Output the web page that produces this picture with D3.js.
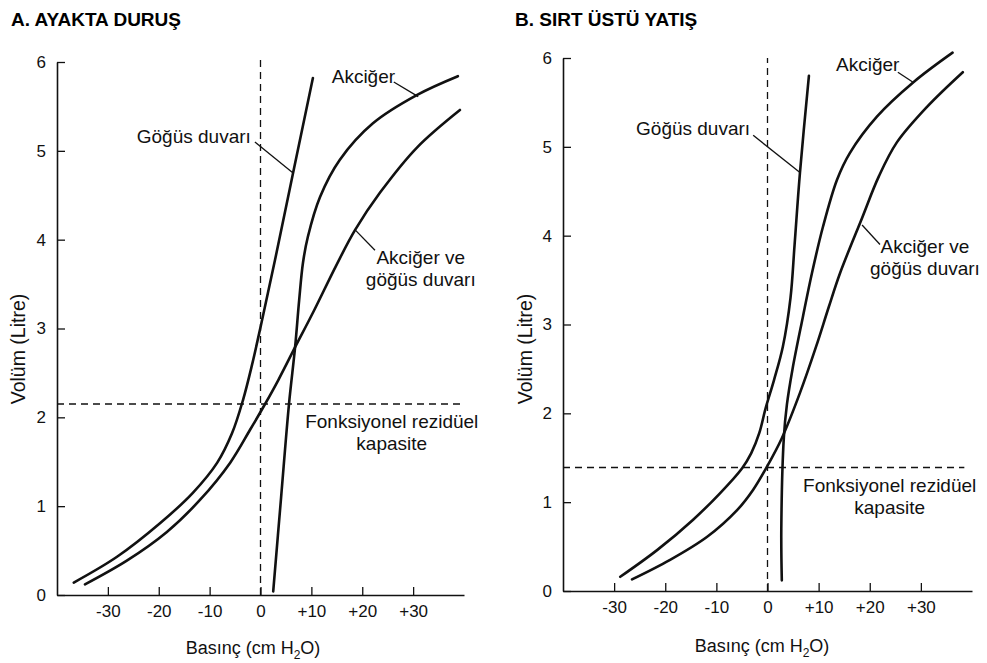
<!DOCTYPE html>
<html>
<head>
<meta charset="utf-8">
<script src="https://cdn.jsdelivr.net/npm/d3@7"></script>
<style>
  body { margin: 0; background: #fff; }
  svg { font-family: "Liberation Sans", Arial, Helvetica, sans-serif; }
</style>
</head>
<body>
<div id="chart"></div>
<script>
// Tick values and labels (shared by both panels)
const pressureTicks = [-30, -20, -10, 0, 10, 20, 30];
const pressureTickLabels = ["-30", "-20", "-10", "0", "+10", "+20", "+30"];
const volumeTicks = [0, 1, 2, 3, 4, 5, 6];

// A. Ayakta duruş - [pressure cm H2O, volume L]
const standingChestWall = [[-36.7, 0.14], [-28.2, 0.43], [-19.7, 0.81], [-13.3, 1.15], [-8.5, 1.49], [-5.6, 1.82],
  [-3.44, 2.195], [-1.67, 2.59], [0.1, 3.04], [2.85, 3.77], [6.4, 4.75], [10.3, 5.82]];
const standingLung = [[2.5, 0.04], [4.05, 1.1], [5.6, 2.15], [6.8, 2.79], [7.6, 3.32], [8.35, 3.74],
  [9.3, 4.03], [11.7, 4.48], [15.6, 4.90], [22.1, 5.31], [30.8, 5.63], [38.8, 5.84]];
const standingBoth = [[-34.5, 0.12], [-26.2, 0.39], [-18.4, 0.71], [-11.9, 1.07], [-5.95, 1.49], [-2.05, 1.86],
  [0.9, 2.15], [3.5, 2.42], [6.8, 2.79], [10.5, 3.2], [14.8, 3.70], [18.6, 4.11], [23.5, 4.53], [30.8, 5.04], [39.2, 5.46]];
const standingFRC = 2.15;

// B. Sırt üstü yatış
const supineChestWall = [[-28.8, 0.16], [-21.6, 0.46], [-14.6, 0.80], [-9.3, 1.10], [-5.0, 1.38], [-3.2, 1.55],
  [-1.6, 1.78], [-0.4, 2.05], [1.3, 2.38], [3.0, 2.75], [4.5, 3.3], [5.3, 3.9], [6.35, 4.71], [8.1, 5.80]];
const supineLung = [[2.8, 0.12], [2.7, 0.7], [3.2, 1.73], [3.8, 2.1], [4.9, 2.5], [6.9, 3.08], [8.7, 3.58],
  [10.85, 4.10], [13.6, 4.63], [16.1, 4.93], [21.4, 5.34], [28.6, 5.73], [36.2, 6.06]];
const supineBoth = [[-26.5, 0.13], [-19.05, 0.35], [-11.8, 0.61], [-5.95, 0.91], [-2.8, 1.14], [-0.1, 1.40],
  [2.8, 1.72], [6.35, 2.23], [9.5, 2.75], [12.0, 3.2], [14.2, 3.58], [18.5, 4.2], [21.8, 4.67], [25.3, 5.05],
  [31.2, 5.45], [38.2, 5.84]];
const supineFRC = 1.39;

// Panel layout + annotation positions (in data coordinates)
const panels = [
  {
    title: "A. AYAKTA DURUŞ", titleX: 11,
    xRange: [57, 464], yRange: [595, 62],
    chestWall: standingChestWall, lung: standingLung, both: standingBoth, frc: standingFRC,
    zeroTop: 6.08, frcEnd: 40,
    xLabelX: 253, xLabelY: 654, yLabelX: 25, yLabelY: 349,
    lungText: { x: 14.0, v: 5.76, lead: [[26.2, 5.775], [31.0, 5.61]] },
    wallText: { x: -1.9, v: 5.09, lead: [[-1.1, 5.10], [6.4, 4.75]] },
    bothText: { x: 31.5, v: 3.73, lead: [[18.6, 4.11], [22.5, 3.88]] },
    frcText: { x: 25.8, v: 1.88 }
  },
  {
    title: "B. SIRT ÜSTÜ YATIŞ", titleX: 515,
    xRange: [563, 972], yRange: [591, 58],
    chestWall: supineChestWall, lung: supineLung, both: supineBoth, frc: supineFRC,
    zeroTop: 6.0, frcEnd: 38.5,
    xLabelX: 762, xLabelY: 652, yLabelX: 532, yLabelY: 349,
    lungText: { x: 13.4, v: 5.85, lead: [[25.5, 5.84], [28.4, 5.73]] },
    wallText: { x: -3.4, v: 5.13, lead: [[-2.8, 5.13], [6.35, 4.71]] },
    bothText: { x: 30.8, v: 3.80, lead: [[18.5, 4.12], [22.0, 3.90]] },
    frcText: { x: 23.9, v: 1.11 }
  }
];

const svg = d3.select("#chart")
  .append("svg")
  .attr("width", 987)
  .attr("height", 663);

svg.append("rect").attr("width", 987).attr("height", 663).attr("fill", "#fff");

panels.forEach(drawPanel);

function drawPanel(p) {
  const x = d3.scaleLinear().domain([-40, 40]).range(p.xRange);
  const y = d3.scaleLinear().domain([0, 6]).range(p.yRange);
  const g = svg.append("g");

  // Title
  g.append("text")
    .attr("x", p.titleX)
    .attr("y", 26)
    .style("font-size", "19px")
    .style("font-weight", "bold")
    .text(p.title);

  // Dashed reference lines: zero pressure and FRC
  g.append("line")
    .attr("x1", x(0)).attr("x2", x(0))
    .attr("y1", y(0)).attr("y2", y(p.zeroTop))
    .attr("stroke", "#111").attr("stroke-width", 1.3)
    .attr("stroke-dasharray", "7,5");

  g.append("line")
    .attr("x1", x(-40)).attr("x2", x(p.frcEnd))
    .attr("y1", y(p.frc)).attr("y2", y(p.frc))
    .attr("stroke", "#111").attr("stroke-width", 1.3)
    .attr("stroke-dasharray", "7,5");

  // Axes (ticks point inward)
  const xAxis = g.append("g")
    .attr("transform", "translate(0," + y(0) + ")")
    .call(d3.axisBottom(x)
      .tickValues(pressureTicks)
      .tickFormat((d, i) => pressureTickLabels[i])
      .tickSizeInner(-8)
      .tickSizeOuter(0)
      .tickPadding(10));

  const yAxis = g.append("g")
    .attr("transform", "translate(" + x(-40) + ",0)")
    .call(d3.axisLeft(y)
      .tickValues(volumeTicks)
      .tickFormat(d3.format("d"))
      .tickSizeInner(-8)
      .tickSizeOuter(0)
      .tickPadding(11));

  [xAxis, yAxis].forEach(a => {
    a.select(".domain").attr("stroke", "#111").attr("stroke-width", 1.6);
    a.selectAll(".tick line").attr("stroke", "#111").attr("stroke-width", 1.3);
    a.selectAll(".tick text").attr("fill", "#111").style("font-size", "17px");
  });

  // Axis titles
  const xl = g.append("text")
    .attr("x", p.xLabelX)
    .attr("y", p.xLabelY)
    .attr("text-anchor", "middle")
    .style("font-size", "18px")
    .attr("fill", "#111");
  xl.append("tspan").text("Basınç (cm H");
  xl.append("tspan").attr("dy", 5).style("font-size", "12px").text("2");
  xl.append("tspan").attr("dy", -5).text("O)");

  g.append("text")
    .attr("transform", "translate(" + p.yLabelX + "," + p.yLabelY + ") rotate(-90)")
    .attr("text-anchor", "middle")
    .style("font-size", "19.5px")
    .attr("fill", "#111")
    .text("Volüm (Litre)");

  // Curves
  const line = d3.line()
    .x(d => x(d[0]))
    .y(d => y(d[1]))
    .curve(d3.curveCatmullRom.alpha(0.5));

  [p.chestWall, p.lung, p.both].forEach(series => {
    g.append("path")
      .datum(series)
      .attr("d", line)
      .attr("fill", "none")
      .attr("stroke", "#111")
      .attr("stroke-width", 2.6)
      .attr("stroke-linecap", "round");
  });

  // Leader lines
  const leader = d3.line().x(d => x(d[0])).y(d => y(d[1]));
  [p.lungText, p.wallText, p.bothText].forEach(t => {
    g.append("path")
      .attr("d", leader(t.lead))
      .attr("fill", "none")
      .attr("stroke", "#111")
      .attr("stroke-width", 1.3);
  });

  // Annotation text
  addLabel(g, x(p.lungText.x), y(p.lungText.v), "start", ["Akciğer"]);
  addLabel(g, x(p.wallText.x), y(p.wallText.v), "end", ["Göğüs duvarı"]);
  addLabel(g, x(p.bothText.x), y(p.bothText.v), "middle", ["Akciğer ve", "göğüs duvarı"]);
  addLabel(g, x(p.frcText.x), y(p.frcText.v), "middle", ["Fonksiyonel rezidüel", "kapasite"]);
}

function addLabel(g, px, py, anchor, lines) {
  const t = g.append("text")
    .attr("x", px)
    .attr("y", py)
    .attr("text-anchor", anchor)
    .style("font-size", "19px")
    .attr("fill", "#111");
  lines.forEach((s, i) => {
    t.append("tspan")
      .attr("x", px)
      .attr("dy", i === 0 ? 0 : 22)
      .text(s);
  });
}
</script>
</body>
</html>
